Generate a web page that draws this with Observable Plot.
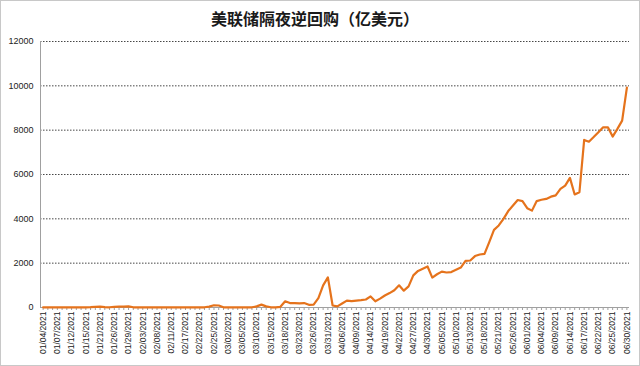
<!DOCTYPE html>
<html>
<head>
<meta charset="utf-8">
<script src="https://cdn.jsdelivr.net/npm/d3@7"></script>
<script src="https://cdn.jsdelivr.net/npm/@observablehq/plot@0.6"></script>
<style>
  html, body { margin: 0; padding: 0; background: #fff; }
  #wrap { position: relative; width: 640px; height: 366px; overflow: hidden; background: #fff; }
  #wrap svg { position: absolute; left: 0; top: 0; }
  #title { position: absolute; top: 6px; left: 0; width: 630px; text-align: center;
           font-family: "Noto Sans CJK SC", sans-serif; font-size: 16px; font-weight: 600; color: #1a1a1a; }
  #border { position: absolute; inset: 0; border: 1px solid #c8c8c8; box-sizing: border-box; pointer-events: none; }
</style>
</head>
<body>
<div id="wrap"><div id="title">美联储隔夜逆回购（亿美元）</div><div id="border"></div></div>
<script>
const title = "美联储隔夜逆回购（亿美元）";

const dates = [
  "01/04/2021","01/05/2021","01/06/2021","01/07/2021","01/08/2021","01/11/2021","01/12/2021","01/13/2021","01/14/2021","01/15/2021",
  "01/19/2021","01/20/2021","01/21/2021","01/22/2021","01/25/2021","01/26/2021","01/27/2021","01/28/2021","01/29/2021",
  "02/01/2021","02/02/2021","02/03/2021","02/04/2021","02/05/2021","02/08/2021","02/09/2021","02/10/2021","02/11/2021","02/12/2021",
  "02/16/2021","02/17/2021","02/18/2021","02/19/2021","02/22/2021","02/23/2021","02/24/2021","02/25/2021","02/26/2021",
  "03/01/2021","03/02/2021","03/03/2021","03/04/2021","03/05/2021","03/08/2021","03/09/2021","03/10/2021","03/11/2021","03/12/2021",
  "03/15/2021","03/16/2021","03/17/2021","03/18/2021","03/19/2021","03/22/2021","03/23/2021","03/24/2021","03/25/2021","03/26/2021",
  "03/29/2021","03/30/2021","03/31/2021",
  "04/01/2021","04/05/2021","04/06/2021","04/07/2021","04/08/2021","04/09/2021","04/12/2021","04/13/2021","04/14/2021","04/15/2021","04/16/2021",
  "04/19/2021","04/20/2021","04/21/2021","04/22/2021","04/23/2021","04/26/2021","04/27/2021","04/28/2021","04/29/2021","04/30/2021",
  "05/03/2021","05/04/2021","05/05/2021","05/06/2021","05/07/2021","05/10/2021","05/11/2021","05/12/2021","05/13/2021","05/14/2021",
  "05/17/2021","05/18/2021","05/19/2021","05/20/2021","05/21/2021","05/24/2021","05/25/2021","05/26/2021","05/27/2021","05/28/2021",
  "06/01/2021","06/02/2021","06/03/2021","06/04/2021","06/07/2021","06/08/2021","06/09/2021","06/10/2021","06/11/2021",
  "06/14/2021","06/15/2021","06/16/2021","06/17/2021","06/18/2021","06/21/2021","06/22/2021","06/23/2021","06/24/2021","06/25/2021",
  "06/28/2021","06/29/2021","06/30/2021"
];

const values = [
  10,5,5,5,5,5,5,5,5,10,
  15,30,40,20,10,30,40,40,50,
  10,5,5,5,5,5,5,5,5,5,
  5,5,5,5,5,10,40,100,90,
  10,5,5,5,5,5,10,50,130,50,
  10,5,30,280,200,200,190,200,120,130,
  420,1000,1360,
  90,50,180,310,290,310,330,360,500,280,400,
  540,650,780,1000,760,950,1450,1650,1750,1850,
  1350,1500,1620,1580,1600,1700,1800,2100,2120,2320,
  2390,2420,2950,3500,3700,4000,4350,4600,4850,4800,
  4480,4370,4800,4860,4900,5000,5060,5350,5500,
  5850,5100,5200,7560,7480,7690,7910,8130,8130,7710,
  8060,8430,9920
];

const tickLabels = [
  "01/04/2021","01/07/2021","01/12/2021","01/15/2021","01/21/2021","01/26/2021","01/29/2021",
  "02/03/2021","02/08/2021","02/11/2021","02/17/2021","02/22/2021","02/25/2021",
  "03/02/2021","03/05/2021","03/10/2021","03/15/2021","03/18/2021","03/23/2021","03/26/2021","03/31/2021",
  "04/06/2021","04/09/2021","04/14/2021","04/19/2021","04/22/2021","04/27/2021","04/30/2021",
  "05/05/2021","05/10/2021","05/13/2021","05/18/2021","05/21/2021","05/26/2021",
  "06/01/2021","06/04/2021","06/09/2021","06/14/2021","06/17/2021","06/22/2021","06/25/2021","06/30/2021"
];

const yTicks = [0, 2000, 4000, 6000, 8000, 10000, 12000];
const gridTicks = [2000, 4000, 6000, 8000, 10000, 12000];

const data = dates.map((d, i) => ({date: d, value: values[i]}));

const chart = Plot.plot({
  width: 640,
  height: 366,
  marginTop: 41,
  marginBottom: 59,
  marginLeft: 40,
  marginRight: 11,
  style: {fontFamily: "'Liberation Sans', Arial, sans-serif", color: "#222", background: "transparent"},
  x: {type: "point", domain: dates, padding: 0.55, label: null},
  y: {domain: [0, 12000], label: null},
  marks: [
    Plot.gridY(gridTicks, {stroke: "#333", strokeOpacity: 0.9, strokeDasharray: "1.5,1.5", strokeWidth: 1}),
    Plot.frame({anchor: "left", stroke: "#a0a0a0"}),
    Plot.ruleY([0], {stroke: "#a0a0a0"}),
    Plot.axisX({ticks: dates, tickSize: 3, tickFormat: () => "", stroke: "#a0a0a0", label: null}),
    Plot.axisX({ticks: tickLabels, tickSize: 0, tickRotate: -90, tickPadding: 4, fontSize: 8.5, fill: "#222", label: null}),
    Plot.axisY({ticks: yTicks, tickSize: 0, tickPadding: 7, fontSize: 9, fill: "#222", tickFormat: d => String(d), label: null}),
    Plot.line(data, {x: "date", y: "value", stroke: "#e5731c", strokeWidth: 2.2, strokeLinejoin: "round"})
  ]
});

document.getElementById("wrap").insertBefore(chart, document.getElementById("title"));
</script>
</body>
</html>
